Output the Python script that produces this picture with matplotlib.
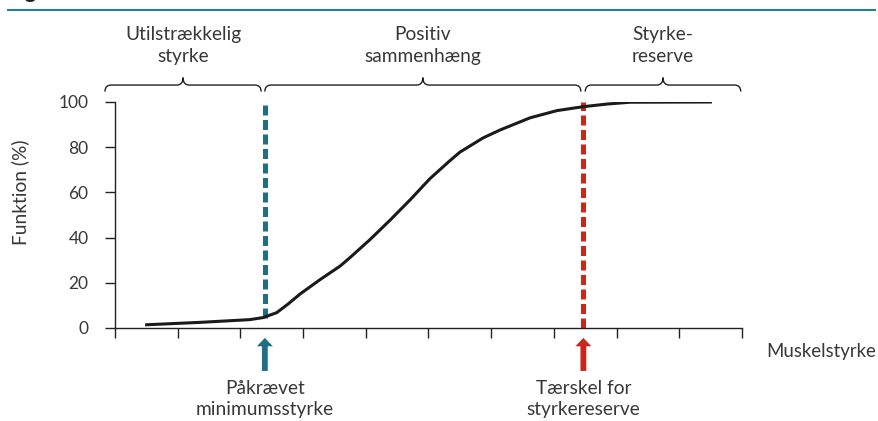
import numpy as np
import matplotlib.pyplot as plt
from matplotlib.path import Path
from matplotlib.patches import PathPatch

plt.rcParams['font.family'] = ['Lato', 'DejaVu Sans']

# curve: muscle strength vs function
styrke = [0.48, 1.36, 2.15, 2.36, 2.58, 2.76, 2.95, 3.27, 3.59, 3.75, 4.07, 4.39, 4.71,
          5.02, 5.34, 5.50, 5.87, 6.14, 6.62, 7.05, 7.46, 7.85, 8.21, 9.52]
funktion = [1.4, 2.5, 3.7, 4.6, 6.8, 10.6, 15.0, 21.4, 27.4, 31.2, 39.2, 47.8, 56.8,
            66.0, 74.0, 77.8, 84.1, 87.6, 93.0, 96.2, 97.9, 99.1, 99.9, 100]

# thresholds
min_x, min_y = 2.39, 4.4
reserve_x = 7.47

# brace zones (x start, x end) and labels
zone_start = [-0.16, 2.39, 7.50]
zone_end = [2.33, 7.43, 9.98]
zone_labels = ['Utilstrækkelig\nstyrke', 'Positiv\nsammenhæng', 'Styrke-\nreserve']

yticks = [0, 20, 40, 60, 80, 100]
xticks = list(range(11))

TXT = '#383838'
BLUE = '#1f6e86'
RED = '#c8281c'
FS = 13.8

fig = plt.figure(figsize=(8.79, 4.21), dpi=100)
ax = fig.add_axes([115 / 879, 1 - 328 / 421, 627 / 879, 226 / 421])

ax.plot(styrke, funktion, color='#1a1a1a', lw=2.2, solid_joinstyle='round',
        solid_capstyle='butt', zorder=3)

# dashed threshold lines
ax.plot([min_x, min_x], [min_y, 100], color=BLUE, lw=3.6, dashes=(2.0, 0.9), zorder=2)
ax.plot([reserve_x, reserve_x], [0, 100], color=RED, lw=3.6, dashes=(2.0, 0.9), zorder=2)

ax.set_xlim(0, 10)
ax.set_ylim(0, 100)
ax.set_xticks(xticks)
ax.set_xticklabels([])
ax.set_yticks(yticks)
for s in ['top', 'right']:
    ax.spines[s].set_visible(False)
for s in ['left', 'bottom']:
    ax.spines[s].set_color('#222222')
    ax.spines[s].set_linewidth(1.0)
ax.tick_params(axis='both', direction='out', length=7, width=1.0, color='#222222',
               labelsize=12.5, labelcolor=TXT, pad=12)
ax.set_ylabel('Funktion (%)', fontsize=FS, color=TXT)
ax.yaxis.set_label_coords(-0.137, 0.6)


def brace(x0, x1, ybot=104.6, yline=107.5, ytop=110.8, dx=0.1):
    xm = (x0 + x1) / 2
    verts = [(x0, ybot), (x0, yline), (x0 + dx, yline),
             (xm - dx, yline), (xm, yline), (xm, ytop),
             (xm, yline), (xm + dx, yline),
             (x1 - dx, yline), (x1, yline), (x1, ybot)]
    codes = [Path.MOVETO, Path.CURVE3, Path.CURVE3,
             Path.LINETO, Path.CURVE3, Path.CURVE3,
             Path.CURVE3, Path.CURVE3,
             Path.LINETO, Path.CURVE3, Path.CURVE3]
    return PathPatch(Path(verts, codes), fill=False, lw=1.0, edgecolor='#222222',
                     clip_on=False)


for x0, x1, lab in zip(zone_start, zone_end, zone_labels):
    ax.add_patch(brace(x0, x1))
    ax.text((x0 + x1) / 2, 125, lab, ha='center', va='center', fontsize=FS,
            color=TXT, linespacing=1.3, clip_on=False)

# arrows under the axis
for x, col, lab in [(min_x, BLUE, 'Påkrævet\nminimumsstyrke'),
                    (reserve_x, RED, 'Tærskel for\nstyrkereserve')]:
    ax.annotate('', xy=(x, -4.4), xytext=(x, -19), annotation_clip=False,
                arrowprops=dict(arrowstyle='simple,head_length=0.6,head_width=1.15,tail_width=0.42',
                                mutation_scale=10, color=col, shrinkA=0, shrinkB=0, lw=0))
    ax.text(x, -31.5, lab, ha='center', va='center', fontsize=FS, color=TXT,
            linespacing=1.3, clip_on=False)

fig.text(766 / 879, 1 - 352 / 421, 'Muskelstyrke', ha='left', va='center',
         fontsize=13.4, color=TXT)

# header rule and cropped title
fig.add_artist(plt.Line2D([8 / 879, 875 / 879], [1 - 10 / 421] * 2, color='#2a7d9c', lw=1.5))
fig.text(8 / 879, 1 + 2 / 421, 'Fig', ha='left', va='baseline', fontsize=15,
         fontweight='bold', color='#222222')

fig.savefig('out.png', dpi=100)
